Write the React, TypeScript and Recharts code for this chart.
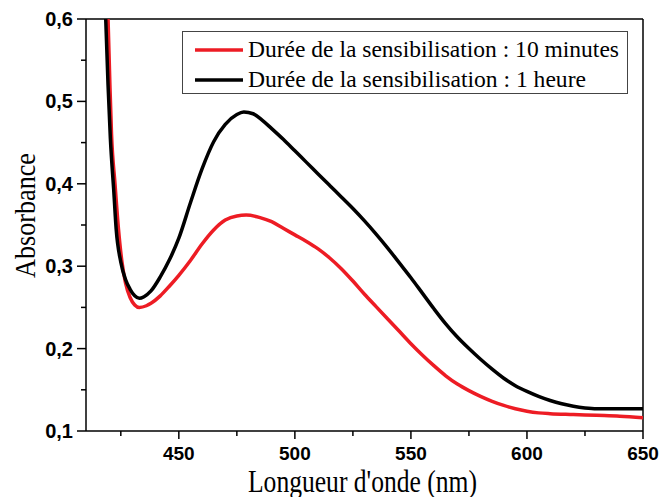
import { LineChart, Line, XAxis, YAxis, Legend, ReferenceLine, Label } from "recharts";

// wavelength (nm) / absorbance
const wavelengths10min = [416.5, 419.5, 420.3, 421, 422.5, 424, 425.5, 427, 429, 431, 433, 436, 438, 442, 446, 450, 455, 460, 465, 470, 475, 479, 485, 490, 495, 500, 505, 510, 515, 520, 525, 530, 535, 540, 545, 550, 555, 560, 565, 570, 575, 580, 585, 590, 595, 600, 605, 610, 620, 630, 640, 650];
const absorbance10min = [0.75, 0.6, 0.52, 0.46, 0.4, 0.345, 0.305, 0.28, 0.262, 0.253, 0.25, 0.252, 0.255, 0.264, 0.276, 0.289, 0.307, 0.327, 0.344, 0.356, 0.361, 0.362, 0.359, 0.354, 0.346, 0.338, 0.33, 0.321, 0.31, 0.297, 0.282, 0.266, 0.251, 0.236, 0.221, 0.206, 0.192, 0.179, 0.167, 0.157, 0.149, 0.142, 0.136, 0.131, 0.127, 0.124, 0.122, 0.121, 0.12, 0.119, 0.118, 0.116];

const wavelengths1h = [416, 418.5, 419.5, 420.5, 422, 423, 425, 427, 429, 431, 433, 435, 438, 442, 446, 450, 455, 460, 465, 470, 475, 478, 482, 486, 490, 495, 500, 505, 510, 515, 520, 525, 530, 535, 540, 545, 550, 555, 560, 565, 570, 575, 580, 585, 590, 595, 600, 605, 610, 615, 620, 625, 630, 640, 650];
const absorbance1h = [0.75, 0.6, 0.52, 0.455, 0.39, 0.345, 0.305, 0.284, 0.272, 0.264, 0.261, 0.263, 0.27, 0.287, 0.308, 0.334, 0.377, 0.418, 0.451, 0.472, 0.484, 0.487, 0.485, 0.477, 0.467, 0.454, 0.44, 0.426, 0.412, 0.398, 0.384, 0.37, 0.355, 0.339, 0.322, 0.304, 0.286, 0.267, 0.248, 0.23, 0.214, 0.2, 0.187, 0.175, 0.164, 0.155, 0.148, 0.142, 0.137, 0.133, 0.13, 0.128, 0.127, 0.127, 0.127];

const seriesNames = ["Durée de la sensibilisation : 10 minutes", "Durée de la sensibilisation : 1 heure"];
const seriesColors = ["#ed1c24", "#000000"];

const xTicks = [425, 450, 475, 500, 525, 550, 575, 600, 625, 650];
const yTicks = [0.1, 0.15, 0.2, 0.25, 0.3, 0.35, 0.4, 0.45, 0.5, 0.55, 0.6];

const data10min = wavelengths10min.map((x, i) => ({ x, y: absorbance10min[i] }));
const data1h = wavelengths1h.map((x, i) => ({ x, y: absorbance1h[i] }));

const SANS = "'Liberation Sans', Arial, sans-serif";
const SERIF = "'Liberation Serif', 'Times New Roman', serif";

function XTick(props: any) {
  const { x, y, payload } = props;
  const major = payload.value % 50 === 0;
  return (
    <g>
      <line x1={x} x2={x} y1={y} y2={y + (major ? 8 : 5)} stroke="#000" strokeWidth={1.5} />
      {major && (
        <text x={x} y={y + 29} textAnchor="middle" fontFamily={SANS} fontWeight="bold" fontSize={19} fill="#000">
          {payload.value}
        </text>
      )}
    </g>
  );
}

function YTick(props: any) {
  const { x, y, payload } = props;
  const v = payload.value;
  const major = Math.abs(v * 10 - Math.round(v * 10)) < 1e-6;
  return (
    <g>
      <line x1={x - (major ? 9 : 5)} x2={x} y1={y} y2={y} stroke="#000" strokeWidth={1.5} />
      {major && (
        <text x={x - 13} y={y + 7} textAnchor="end" fontFamily={SANS} fontWeight="bold" fontSize={20} fill="#000">
          {v.toFixed(1).replace(".", ",")}
        </text>
      )}
    </g>
  );
}

function LegendBox() {
  return (
    <svg width={447} height={64} style={{ display: "block" }}>
      <rect x={0.5} y={0.5} width={445} height={62} fill="#fff" stroke="#444" strokeWidth={1} />
      {seriesNames.map((name, i) => (
        <g key={name}>
          <line x1={13} x2={61} y1={19 + i * 30} y2={19 + i * 30} stroke={seriesColors[i]} strokeWidth={3.5} />
          <text x={66} y={26.3 + i * 29.4} fontFamily={SERIF} fontSize={24} fill="#000"
            textLength={i === 0 ? 371 : 338} lengthAdjust="spacingAndGlyphs">
            {name}
          </text>
        </g>
      ))}
    </svg>
  );
}

export default function App() {
  return (
    <div style={{ position: "absolute", left: 0, top: 0, width: 661, height: 497, background: "#fff" }}>
      <LineChart width={661} height={497} margin={{ top: 19, right: 18, bottom: 0, left: 0 }}>
        <XAxis
          dataKey="x"
          type="number"
          domain={[410, 650]}
          allowDataOverflow
          ticks={xTicks}
          interval={0}
          height={66}
          tickSize={0}
          tickMargin={0}
          tickLine={false}
          tick={<XTick />}
          axisLine={{ stroke: "#000", strokeWidth: 1.5 }}
        >
          <Label
            content={() => (
              <text x={362.5} y={491.5} textAnchor="middle" fontFamily={SERIF} fontSize={31} fill="#000"
                textLength={229} lengthAdjust="spacingAndGlyphs">
                Longueur d'onde (nm)
              </text>
            )}
          />
        </XAxis>
        <YAxis
          dataKey="y"
          type="number"
          domain={[0.1, 0.6]}
          allowDataOverflow
          ticks={yTicks}
          interval={0}
          width={86}
          tickSize={0}
          tickMargin={0}
          tickLine={false}
          tick={<YTick />}
          axisLine={{ stroke: "#000", strokeWidth: 1.5 }}
        >
          <Label
            content={() => (
              <text x={35} y={215.5} transform="rotate(-90, 35, 215.5)" textAnchor="middle" fontFamily={SERIF}
                fontSize={29} fill="#000" textLength={125} lengthAdjust="spacingAndGlyphs">
                Absorbance
              </text>
            )}
          />
        </YAxis>
        <ReferenceLine y={0.6} stroke="#000" strokeWidth={1.5} />
        <ReferenceLine x={650} stroke="#000" strokeWidth={1.5} />
        <Line data={data10min} dataKey="y" name={seriesNames[0]} type="monotone" stroke={seriesColors[0]}
          strokeWidth={3.5} dot={false} activeDot={false} isAnimationActive={false} />
        <Line data={data1h} dataKey="y" name={seriesNames[1]} type="monotone" stroke={seriesColors[1]}
          strokeWidth={3.5} dot={false} activeDot={false} isAnimationActive={false} />
        <Legend
          layout="vertical"
          verticalAlign="middle"
          align="center"
          content={() => <LegendBox />}
          wrapperStyle={{ left: 182, top: 31, width: 447, height: 64 }}
        />
      </LineChart>
    </div>
  );
}
